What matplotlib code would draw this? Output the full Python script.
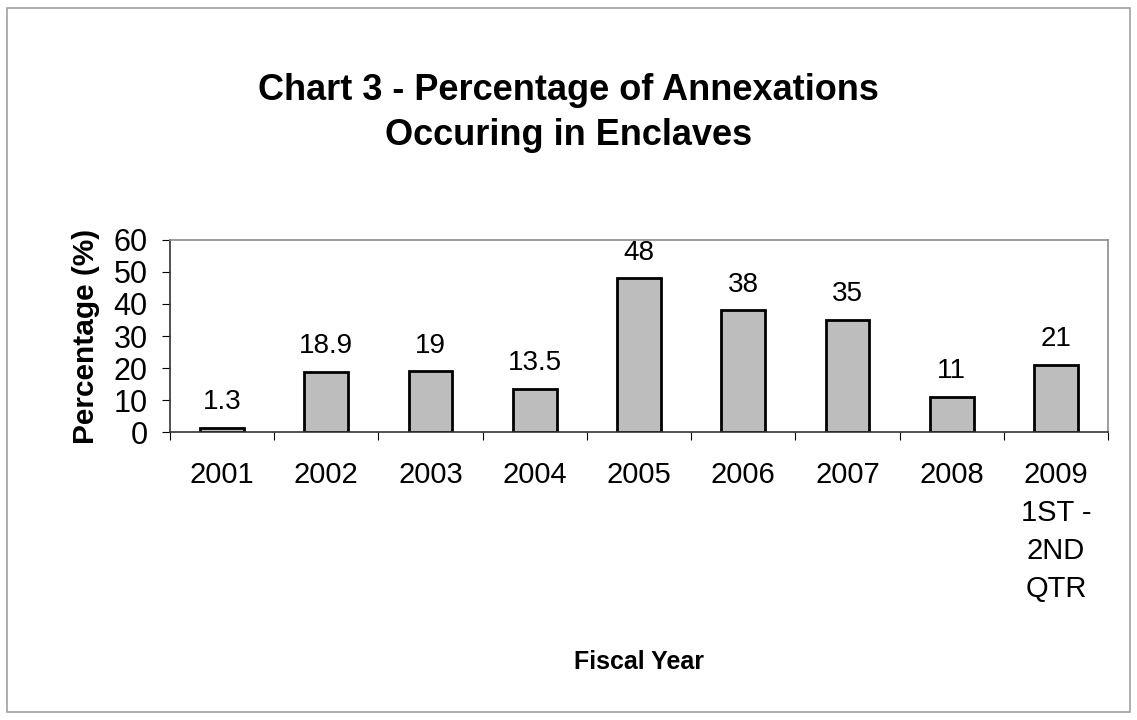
import matplotlib
matplotlib.use("Agg")
import matplotlib.pyplot as plt
from matplotlib.patches import Rectangle

# Chart data
years = ["2001", "2002", "2003", "2004", "2005", "2006", "2007", "2008",
         "2009\n1ST -\n2ND\nQTR"]
percent = [1.3, 18.9, 19, 13.5, 48, 38, 35, 11, 21]
value_labels = ["1.3", "18.9", "19", "13.5", "48", "38", "35", "11", "21"]
y_ticks = [0, 10, 20, 30, 40, 50, 60]

plt.rcParams['font.family'] = ['Liberation Sans', 'DejaVu Sans']

fig = plt.figure(figsize=(11.37, 7.2), dpi=100)
fig.patch.set_facecolor('white')

# outer frame of the chart
fig.patches.append(Rectangle((7 / 1137, 8 / 720), 1123 / 1137, 704 / 720,
                             transform=fig.transFigure, fill=False,
                             edgecolor='#a0a0a0', linewidth=1.2))

ax = fig.add_axes([170 / 1137, 1 - 432 / 720, 938 / 1137, 192 / 720])

x = list(range(len(years)))
ax.bar(x, percent, width=0.42, color='#bdbdbd', edgecolor='black',
       linewidth=2)

for xi, val, lab in zip(x, percent, value_labels):
    ax.annotate(lab, (xi, val), xytext=(0, 9), textcoords='offset points',
                ha='center', va='bottom', fontsize=20)

ax.set_xlim(-0.5, len(years) - 0.5)
ax.set_ylim(0, 60)
ax.set_yticks(y_ticks)
ax.tick_params(axis='y', labelsize=22, length=6, pad=10, direction='out')

# category ticks sit between the bars
ax.set_xticks([i - 0.5 for i in range(len(years) + 1)], minor=False)
ax.set_xticklabels([])
ax.set_xticks(x, minor=True)
ax.set_xticklabels(years, minor=True, fontsize=21, linespacing=1.45, va='top')
ax.tick_params(axis='x', which='major', length=6, direction='out')
ax.tick_params(axis='x', which='minor', length=0, pad=21)

for side in ['left', 'bottom']:
    ax.spines[side].set_color('#333333')
    ax.spines[side].set_linewidth(1.2)
for side in ['top', 'right']:
    ax.spines[side].set_color('#8c8c8c')
    ax.spines[side].set_linewidth(1.2)

ax.set_ylabel("Percentage (%)", fontsize=21.5, fontweight='bold', labelpad=10)
ax.set_xlabel("Fiscal Year", fontsize=18, fontweight='bold', labelpad=34)

fig.text(0.5, 1 - 113 / 720, "Chart 3 - Percentage of Annexations\nOccuring in Enclaves",
         ha='center', va='center', fontsize=26, fontweight='bold', linespacing=1.4)

fig.savefig("out.png", dpi=100)
